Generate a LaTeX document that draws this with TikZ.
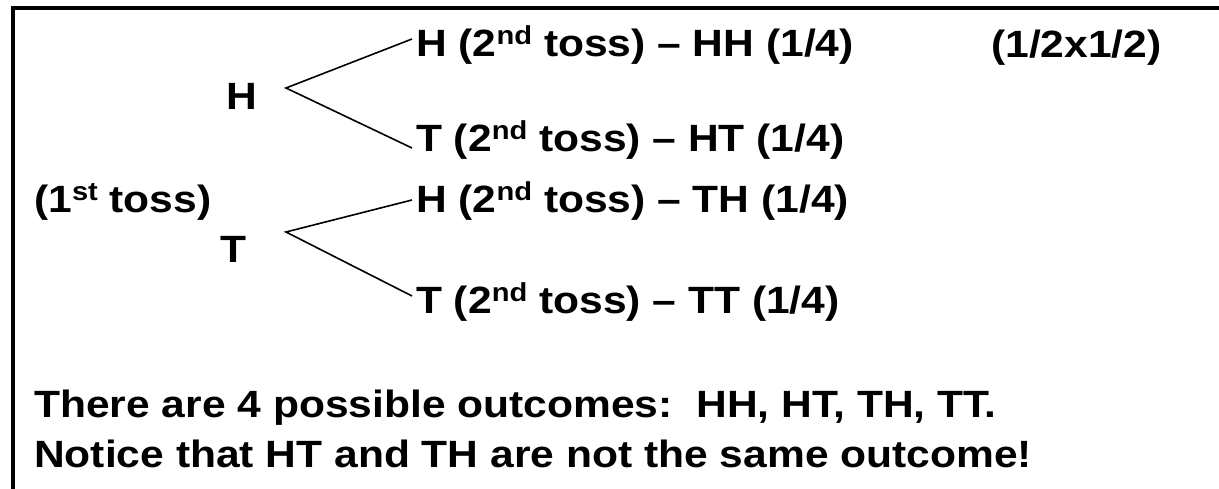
\documentclass[tikz,border=0pt]{standalone}
\usepackage{fontspec}
\setmainfont{Liberation Sans}
\newfontfamily\widefont[FakeStretch=1.12,Ligatures=TeX]{Liberation Sans}
\newcommand{\sups}[1]{\raisebox{12pt}{\fontsize{26}{26}\selectfont #1}}
\tikzset{
  txt/.style={anchor=base west, inner sep=0pt, font=\widefont\fontsize{38}{40}\selectfont\bfseries},
  branch/.style={line width=1.6pt},
  frame/.style={line width=4pt}
}
\begin{document}
\begin{tikzpicture}[x=1pt,y=-1pt]
\useasboundingbox (0,0) rectangle (1219,489);
% frame (top and left sides)
\coordinate (fb) at (13,489);
\coordinate (fc) at (13,8);
\coordinate (fr) at (1219,8);
\draw[frame] (fb) -- (fc) -- (fr);
% first toss
\node[txt] (h1) at (226,110) {H};
\node[txt] (t1) at (220,263) {T};
\node[txt] (first) at (34,213) {(1\sups{st} toss)};
% second toss
\node[txt] (hh) at (416,57) {H (2\sups{nd} toss) – HH (1/4)};
\node[txt] (ht) at (416,152) {T (2\sups{nd} toss) – HT (1/4)};
\node[txt] (th) at (416,213) {H (2\sups{nd} toss) – TH (1/4)};
\node[txt] (tt) at (416,313) {T (2\sups{nd} toss) – TT (1/4)};
\node[txt] (prod) at (991,58) {(1/2x1/2)};
% branches
\coordinate (a1) at (286,88);
\coordinate (a2) at (286,232);
\coordinate (e1) at (412,39);
\coordinate (e2) at (412,148);
\coordinate (e3) at (412,200);
\coordinate (e4) at (412,296);
\draw[branch] (e1) -- (a1) -- (e2);
\draw[branch] (e3) -- (a2) -- (e4);
% conclusion
\node[txt] (c1) at (34,417) {There are 4 possible outcomes:\ \ HH, HT, TH, TT.};
\node[txt] (c2) at (34,467) {Notice that HT and TH are not the same outcome!};
\end{tikzpicture}
\end{document}
